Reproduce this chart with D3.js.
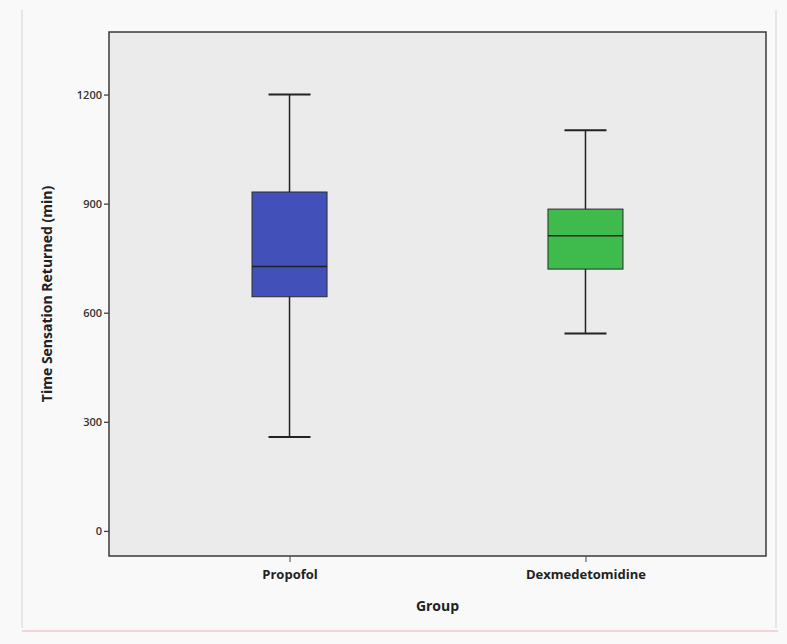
<html>
    <head>
        <title>Boxplot</title>
        <script src="https://d3js.org/d3.v7.min.js"></script>
        <style>
            body { margin:0; background:#f9f9f9; }
            text { font-family: "Open Sans", "DejaVu Sans", sans-serif; }
        </style>
    </head>
    <body>
        <svg id="chart" width="787" height="644"></svg>
        <script>
            // box plot values
            const groups = ["Propofol", "Dexmedetomidine"];
            const whiskerLow  = [258, 543];
            const q1          = [644, 720];
            const median      = [727, 812];
            const q3          = [932, 885];
            const whiskerHigh = [1200, 1102];
            const boxColors   = ["#4151b9", "#3fbb4e"];
            const yTicks      = [0, 300, 600, 900, 1200];

            const svg = d3.select("#chart");
            const margin = {left:109, top:32, right:766, bottom:556};

            const data = groups.map((g,i) => ({
                group:g, lo:whiskerLow[i], q1:q1[i], med:median[i], q3:q3[i], hi:whiskerHigh[i], color:boxColors[i]
            }));

            const x = d3.scalePoint().domain(groups)
                        .range([margin.left, margin.right]).padding(0.61);
            const y = d3.scaleLinear().domain([-69, 1372])
                        .range([margin.bottom, margin.top]);

            // faint outer frame lines
            svg.append("line").attr("x1",22).attr("x2",22).attr("y1",10).attr("y2",628)
               .attr("stroke","#e6e6e6").attr("stroke-width",2);
            svg.append("line").attr("x1",776).attr("x2",776).attr("y1",10).attr("y2",628)
               .attr("stroke","#e6e6e6").attr("stroke-width",2);
            svg.append("line").attr("x1",22).attr("x2",778).attr("y1",631).attr("y2",631)
               .attr("stroke","#f0c8cc").attr("stroke-width",1.5);

            // plot area
            svg.append("rect")
               .attr("x",margin.left).attr("y",margin.top)
               .attr("width",margin.right-margin.left).attr("height",margin.bottom-margin.top)
               .attr("fill","#ebebeb").attr("stroke","#3a3a3a").attr("stroke-width",1.5);

            // y axis
            const yAxis = svg.append("g")
                .attr("transform",`translate(${margin.left},0)`)
                .call(d3.axisLeft(y).tickValues(yTicks).tickFormat(d3.format("d")).tickSize(5).tickPadding(2));
            yAxis.select(".domain").remove();
            yAxis.selectAll("line").attr("stroke","#444").attr("stroke-width",1.3);
            yAxis.selectAll("text").attr("font-size",11).attr("font-weight","600").attr("fill","#333");

            // x axis
            const xAxis = svg.append("g")
                .attr("transform",`translate(0,${margin.bottom})`)
                .call(d3.axisBottom(x).tickSize(6).tickPadding(8));
            xAxis.select(".domain").remove();
            xAxis.selectAll("line").attr("stroke","#444");
            xAxis.selectAll("text").attr("font-size",13).attr("font-weight","bold").attr("fill","#222");

            // axis titles
            svg.append("text")
               .attr("transform",`translate(52,${(margin.top+margin.bottom)/2}) rotate(-90)`)
               .attr("text-anchor","middle")
               .attr("font-size",14).attr("font-weight","bold").attr("fill","#222")
               .text("Time Sensation Returned (min)");
            svg.append("text")
               .attr("x",(margin.left+margin.right)/2).attr("y",611)
               .attr("text-anchor","middle")
               .attr("font-size",14).attr("font-weight","bold").attr("fill","#222")
               .text("Group");

            const boxW = 75, capW = 42;
            const boxes = svg.append("g").selectAll("g.box").data(data).join("g").attr("class","box");

            boxes.append("line")
                 .attr("x1",d=>x(d.group)).attr("x2",d=>x(d.group))
                 .attr("y1",d=>y(d.lo)).attr("y2",d=>y(d.hi))
                 .attr("stroke","#222").attr("stroke-width",1.5);
            boxes.append("line")
                 .attr("x1",d=>x(d.group)-capW/2).attr("x2",d=>x(d.group)+capW/2)
                 .attr("y1",d=>y(d.hi)).attr("y2",d=>y(d.hi))
                 .attr("stroke","#222").attr("stroke-width",2);
            boxes.append("line")
                 .attr("x1",d=>x(d.group)-capW/2).attr("x2",d=>x(d.group)+capW/2)
                 .attr("y1",d=>y(d.lo)).attr("y2",d=>y(d.lo))
                 .attr("stroke","#222").attr("stroke-width",2);
            boxes.append("rect")
                 .attr("x",d=>x(d.group)-boxW/2).attr("width",boxW)
                 .attr("y",d=>y(d.q3)).attr("height",d=>y(d.q1)-y(d.q3))
                 .attr("fill",d=>d.color).attr("stroke","#2a2a2a").attr("stroke-width",1);
            boxes.append("line")
                 .attr("x1",d=>x(d.group)-boxW/2).attr("x2",d=>x(d.group)+boxW/2)
                 .attr("y1",d=>y(d.med)).attr("y2",d=>y(d.med))
                 .attr("stroke","#222").attr("stroke-width",1.5);
        </script>
    </body>
</html>
